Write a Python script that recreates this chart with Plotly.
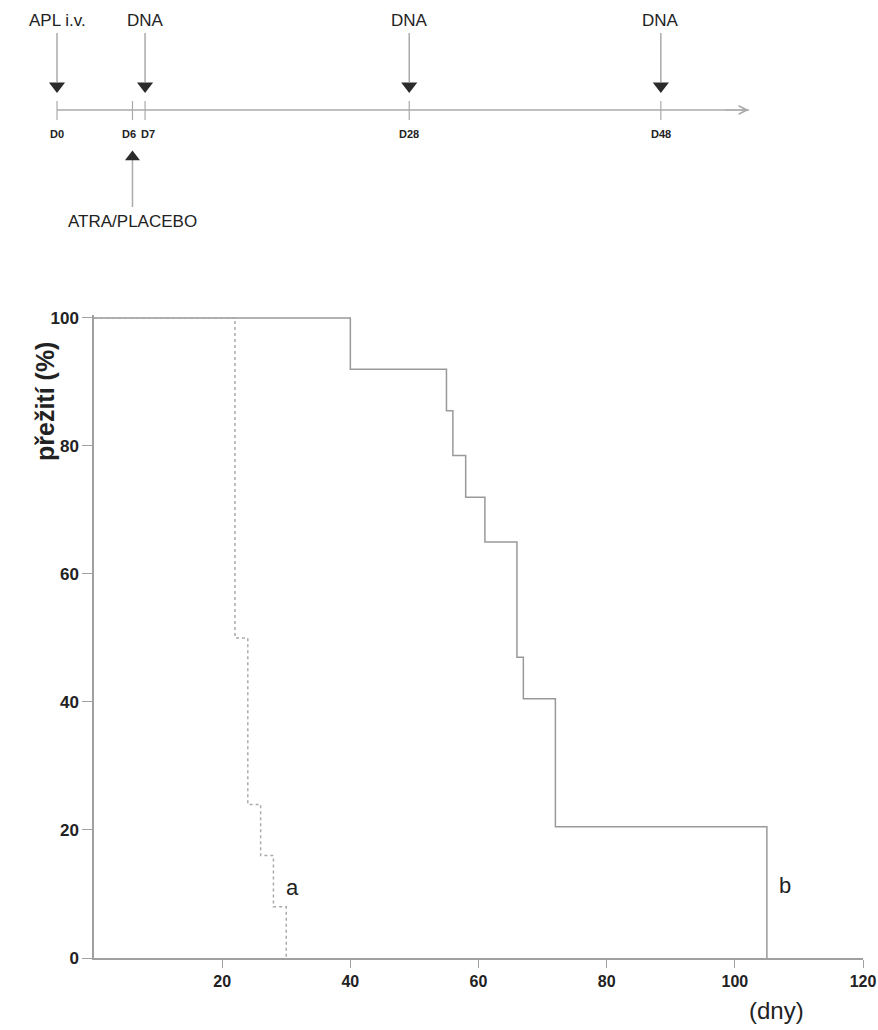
import plotly.graph_objects as go

# ---------------- data ----------------
# Kaplan-Meier survival curves
a_days = [0, 22, 24, 26, 28, 30]
a_survival = [100, 50, 24, 16, 8, 0]
b_days = [0, 40, 55, 56, 58, 61, 66, 67, 72, 105]
b_survival = [100, 92, 85.5, 78.5, 72, 65, 47, 40.5, 20.5, 0]

x_tick_vals = [20, 40, 60, 80, 100, 120]
y_tick_vals = [0, 20, 40, 60, 80, 100]

# Treatment timeline (days)
top_event_days = [0, 7, 28, 48]
top_event_labels = ["APL i.v.", "DNA", "DNA", "DNA"]
bottom_event_days = [6]
bottom_event_labels = ["ATRA/PLACEBO"]
timeline_tick_days = [0, 6, 7, 28, 48]
timeline_tick_labels = ["D0", "D6", "D7", "D28", "D48"]
timeline_end_day = 55

# ---------------- layout helpers ----------------
W, H = 878, 1030
ML, MR, MT, MB = 20, 15, 10, 72
PW, PH = W - ML - MR, H - MT - MB


def fx(px):
    return (px - ML) / PW


def fy(py):
    return (H - MB - py) / PH


GRAY = "#a0a0a0"
LINE = "#999999"
TXT = "#222222"
FONT = "Liberation Sans, Arial, sans-serif"

# timeline x-scale: 12.58 px per day, day 0 at pixel 57
tl_scale = 12.58
tl_x0 = -(57 - ML) / tl_scale
tl_x1 = tl_x0 + PW / tl_scale

fig = go.Figure()

# ---- survival curves ----
fig.add_trace(go.Scatter(x=b_days, y=b_survival, mode="lines", line_shape="hv",
                         line=dict(color=LINE, width=1.5), showlegend=False,
                         xaxis="x", yaxis="y"))
fig.add_trace(go.Scatter(x=a_days, y=a_survival, mode="lines", line_shape="hv",
                         line=dict(color="#aaaaaa", width=1.5, dash="dot"),
                         showlegend=False, xaxis="x", yaxis="y"))

# ---- timeline ----
fig.add_trace(go.Scatter(x=[0, timeline_end_day], y=[0, 0], mode="lines",
                         line=dict(color="#aaaaaa", width=1.5), showlegend=False,
                         xaxis="x2", yaxis="y2", hoverinfo="skip"))
tx, ty = [], []
for d in timeline_tick_days:
    tx += [d, d, None]
    ty += [9, -10, None]
fig.add_trace(go.Scatter(x=tx, y=ty, mode="lines", line=dict(color="#aaaaaa", width=1.2),
                         showlegend=False, xaxis="x2", yaxis="y2", hoverinfo="skip"))
ax_, ay_ = [], []
for d in top_event_days:
    ax_ += [d, d, None]
    ay_ += [77, 28, None]
fig.add_trace(go.Scatter(x=ax_, y=ay_, mode="lines", line=dict(color="#aaaaaa", width=1.5),
                         showlegend=False, xaxis="x2", yaxis="y2", hoverinfo="skip"))
fig.add_trace(go.Scatter(x=top_event_days, y=[24] * len(top_event_days), mode="markers",
                         marker=dict(symbol="triangle-down", size=14, color="#2b2b2b"),
                         cliponaxis=False, showlegend=False, xaxis="x2", yaxis="y2",
                         hoverinfo="skip"))
bx_, by_ = [], []
for d in bottom_event_days:
    bx_ += [d, d, None]
    by_ += [-50, -97, None]
fig.add_trace(go.Scatter(x=bx_, y=by_, mode="lines", line=dict(color="#aaaaaa", width=1.5),
                         showlegend=False, xaxis="x2", yaxis="y2", hoverinfo="skip"))
fig.add_trace(go.Scatter(x=bottom_event_days, y=[-47] * len(bottom_event_days), mode="markers",
                         marker=dict(symbol="triangle-up", size=13, color="#2b2b2b"),
                         cliponaxis=False, showlegend=False, xaxis="x2", yaxis="y2",
                         hoverinfo="skip"))

annotations = []
annotations.append(dict(x=timeline_end_day, y=0, xref="x2", yref="y2",
                        ax=timeline_end_day - 2, ay=0, axref="x2", ayref="y2",
                        showarrow=True, arrowhead=5, arrowsize=1.4, arrowwidth=1.2,
                        arrowcolor="#aaaaaa", text=""))
for d, lab in zip(top_event_days, top_event_labels):
    annotations.append(dict(x=d, y=90, xref="x2", yref="y2", text=lab, showarrow=False,
                            font=dict(family=FONT, size=17, color=TXT)))
for i, (d, lab) in enumerate(zip(timeline_tick_days, timeline_tick_labels)):
    shift = 0
    if i + 1 < len(timeline_tick_days) and timeline_tick_days[i + 1] - d <= 2:
        shift = -3
    if i > 0 and d - timeline_tick_days[i - 1] <= 2:
        shift = 3
    annotations.append(dict(x=d, y=-24, xref="x2", yref="y2", text=lab, showarrow=False,
                            xshift=shift,
                            font=dict(family=FONT, size=11, color=TXT, weight="bold")))
for d, lab in zip(bottom_event_days, bottom_event_labels):
    annotations.append(dict(x=d, y=-111, xref="x2", yref="y2", text=lab, showarrow=False,
                            font=dict(family=FONT, size=17, color=TXT)))

# curve labels
annotations.append(dict(x=31, y=11, xref="x", yref="y", text="a", showarrow=False,
                        font=dict(family=FONT, size=22, color=TXT)))
annotations.append(dict(x=107.8, y=11.4, xref="x", yref="y", text="b", showarrow=False,
                        font=dict(family=FONT, size=22, color=TXT)))
# axis titles
annotations.append(dict(x=fx(29), y=fy(402), xref="paper", yref="paper",
                        text="přežití (%)", textangle=-90, showarrow=False,
                        font=dict(family=FONT, size=25, color=TXT, weight="bold")))
annotations.append(dict(x=fx(806), y=fy(1011), xref="paper", yref="paper",
                        text="(dny)", showarrow=False, yanchor="middle",
                        font=dict(family=FONT, size=24, color=TXT)))

fig.update_layout(
    width=W, height=H,
    margin=dict(l=ML, r=MR, t=MT, b=MB, autoexpand=False),
    paper_bgcolor="white", plot_bgcolor="white",
    annotations=annotations,
    xaxis=dict(domain=[fx(94), 1], range=[0, 120], tickvals=x_tick_vals,
               showline=True, linecolor=GRAY, linewidth=1.5, ticks="outside",
               ticklen=8, tickcolor=GRAY, tickwidth=1.2, showgrid=False, zeroline=False,
               tickfont=dict(family=FONT, size=16, color=TXT, weight="bold"),
               anchor="y", fixedrange=True),
    yaxis=dict(domain=[0, fy(315.4)], range=[0, 100.4], tickvals=y_tick_vals,
               showline=True, linecolor=GRAY, linewidth=1.5, ticks="outside",
               ticklen=10, tickcolor=GRAY, tickwidth=1.2, showgrid=False, zeroline=False,
               tickfont=dict(family=FONT, size=17, color=TXT, weight="bold"),
               anchor="x", fixedrange=True),
    xaxis2=dict(domain=[0, 1], range=[tl_x0, tl_x1], visible=False, anchor="y2",
                fixedrange=True),
    yaxis2=dict(domain=[fy(240), 1], range=[-130, 100], visible=False, anchor="x2",
                fixedrange=True),
)

fig.write_html("out.html")
